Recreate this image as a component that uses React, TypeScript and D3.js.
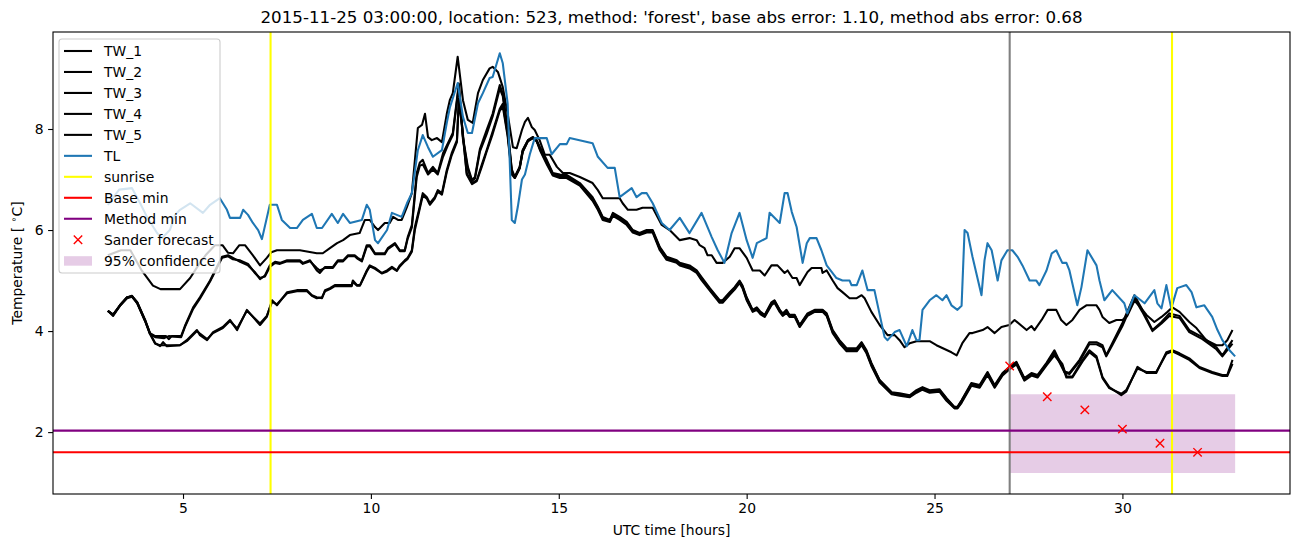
import React, { useEffect, useRef } from "react";
import * as d3 from "d3";

// [hour, temperature] pairs
const tw1 = [
  [3.0, 5.5], [3.35, 5.6], [3.6, 5.6], [3.9, 5.2], [4.2, 4.9], [4.4, 4.83], [4.92, 4.83], [5.19, 5.05],
  [5.45, 5.35], [5.6, 5.5], [5.85, 5.7], [6.05, 5.7], [6.2, 5.55], [6.33, 5.54], [6.5, 5.7], [6.65, 5.7],
  [6.86, 5.5], [7.05, 5.3], [7.23, 5.45], [7.35, 5.56], [7.5, 5.6], [8.11, 5.6], [8.56, 5.54], [8.72, 5.54],
  [8.91, 5.64], [9.1, 5.74], [9.26, 5.8], [9.44, 5.9], [9.7, 5.94], [9.84, 6.2], [9.97, 6.2], [10.11, 6.06],
  [10.19, 6.0], [10.37, 6.14], [10.5, 6.14], [10.59, 6.26], [10.72, 6.2], [10.82, 6.2], [10.96, 6.46],
  [11.09, 6.73], [11.25, 8.02], [11.36, 8.08], [11.44, 8.3], [11.52, 7.84], [11.62, 7.78], [11.76, 7.82],
  [11.89, 7.74], [12.02, 8.3], [12.1, 8.57], [12.18, 8.71], [12.31, 9.43], [12.45, 8.57], [12.58, 8.18],
  [12.71, 8.12], [12.85, 8.71], [12.98, 8.97], [13.16, 9.2], [13.24, 9.23], [13.38, 9.13], [13.51, 8.83],
  [13.64, 8.3], [13.78, 7.64], [13.88, 7.62], [14.02, 7.98], [14.1, 8.14], [14.18, 8.22], [14.28, 8.04],
  [14.36, 7.98], [14.49, 7.78], [14.63, 7.49], [14.76, 7.49], [14.95, 7.25], [15.11, 7.13], [15.29, 7.13],
  [15.56, 7.05], [15.9, 6.93], [16.04, 6.79], [16.17, 6.63], [16.62, 6.63], [16.7, 6.53], [16.84, 6.4],
  [17.07, 6.4], [17.23, 6.44], [17.5, 6.44], [17.74, 6.1], [17.95, 6.0], [18.22, 5.8], [18.48, 5.84],
  [18.67, 5.8], [18.75, 5.7], [18.88, 5.64], [18.96, 5.5], [19.07, 5.5], [19.2, 5.35], [19.36, 5.35],
  [19.55, 5.47], [19.68, 5.64], [19.81, 5.64], [20.0, 5.45], [20.16, 5.2], [20.35, 5.2], [20.48, 5.1],
  [20.66, 5.3], [20.82, 5.3], [21.01, 5.15], [21.09, 5.2], [21.22, 5.05], [21.33, 5.05], [21.41, 4.91],
  [21.62, 5.17], [21.73, 5.25], [21.99, 5.25], [22.02, 5.15], [22.13, 5.2], [22.29, 5.0], [22.42, 4.85],
  [22.55, 4.77], [22.74, 4.65], [22.93, 4.65], [23.06, 4.71], [23.14, 4.65], [23.32, 4.38], [23.54, 4.12],
  [23.75, 3.92], [23.94, 3.92], [24.07, 3.82], [24.2, 3.68], [24.34, 3.76], [24.52, 3.8], [24.87, 3.8],
  [25.05, 3.72], [25.45, 3.58], [25.59, 3.52], [25.74, 3.76], [25.93, 3.96], [26.01, 3.96], [26.28, 4.02],
  [26.41, 4.08], [26.6, 3.96], [26.78, 4.08], [26.99, 4.12], [27.13, 4.22], [27.45, 4.02], [27.58, 4.1],
  [27.66, 4.02], [27.85, 4.22], [28.01, 4.42], [28.24, 4.42], [28.37, 4.22], [28.51, 4.12], [28.67, 4.22],
  [28.86, 4.42], [29.04, 4.51], [29.31, 4.51], [29.39, 4.42], [29.47, 4.28], [29.65, 4.16], [29.84, 4.22],
  [30.0, 4.22], [30.13, 4.3], [30.32, 4.6], [30.45, 4.5], [30.64, 4.32], [30.85, 4.18], [31.04, 4.28],
  [31.2, 4.38], [31.33, 4.47], [31.52, 4.38], [31.78, 4.18], [31.97, 4.06], [32.23, 3.82], [32.5, 3.72],
  [32.66, 3.72], [32.79, 3.82], [32.93, 4.02],
];

const tw2 = [
  [3.0, 4.4], [3.14, 4.32], [3.32, 4.51], [3.51, 4.67], [3.64, 4.69], [3.78, 4.57], [3.99, 4.22], [4.12, 3.96],
  [4.26, 3.9], [4.55, 3.9], [4.62, 3.84], [4.7, 3.9], [4.95, 3.9], [5.05, 4.1], [5.27, 4.47], [5.45, 4.67],
  [5.72, 5.0], [5.9, 5.27], [6.04, 5.47], [6.2, 5.5], [6.33, 5.45], [6.52, 5.37], [6.73, 5.3], [6.91, 5.17],
  [7.05, 5.03], [7.18, 5.1], [7.31, 5.3], [7.45, 5.37], [7.58, 5.35], [7.77, 5.4], [8.11, 5.4], [8.19, 5.35],
  [8.38, 5.4], [8.56, 5.2], [8.64, 5.15], [8.78, 5.27], [8.99, 5.27], [9.12, 5.4], [9.26, 5.4], [9.39, 5.5],
  [9.57, 5.5], [9.65, 5.45], [9.76, 5.4], [9.89, 5.7], [9.97, 5.7], [10.11, 5.54], [10.37, 5.54], [10.45, 5.64],
  [10.64, 5.74], [10.77, 5.6], [10.9, 5.6], [10.98, 5.86], [11.09, 6.1], [11.22, 7.13], [11.3, 7.33],
  [11.38, 7.39], [11.52, 7.13], [11.65, 7.25], [11.78, 7.13], [11.92, 7.52], [12.05, 7.72], [12.18, 7.92],
  [12.34, 8.9], [12.45, 7.84], [12.58, 7.25], [12.69, 6.99], [12.77, 7.05], [12.9, 7.6], [13.08, 7.98],
  [13.24, 8.3], [13.43, 8.87], [13.51, 8.7], [13.64, 8.0], [13.75, 7.2], [13.83, 7.05], [13.96, 7.25],
  [14.04, 7.58], [14.18, 7.78], [14.31, 7.84], [14.41, 7.78], [14.5, 7.64], [14.68, 7.39], [14.84, 7.13],
  [15.03, 7.1], [15.21, 7.09], [15.56, 6.93], [15.9, 6.65], [16.04, 6.46], [16.17, 6.26], [16.36, 6.2],
  [16.44, 6.34], [16.62, 6.26], [16.81, 6.16], [16.97, 6.0], [17.15, 5.94], [17.34, 6.0], [17.5, 6.0],
  [17.69, 5.66], [17.87, 5.47], [18.14, 5.4], [18.22, 5.35], [18.48, 5.3], [18.67, 5.2], [18.8, 5.07],
  [19.02, 4.85], [19.28, 4.61], [19.36, 4.61], [19.55, 4.77], [19.68, 4.87], [19.81, 5.0], [19.89, 4.9],
  [20.0, 4.67], [20.16, 4.42], [20.27, 4.47], [20.37, 4.38], [20.48, 4.32], [20.66, 4.57], [20.74, 4.61],
  [20.88, 4.42], [20.96, 4.35], [21.06, 4.42], [21.14, 4.32], [21.28, 4.32], [21.41, 4.12], [21.62, 4.35],
  [21.81, 4.42], [22.02, 4.42], [22.13, 4.35], [22.29, 4.02], [22.47, 3.82], [22.66, 3.66], [22.93, 3.66],
  [23.06, 3.78], [23.19, 3.62], [23.32, 3.37], [23.54, 3.03], [23.86, 2.79], [24.07, 2.77], [24.34, 2.73],
  [24.52, 2.83], [24.68, 2.89], [24.87, 2.83], [25.13, 2.85], [25.32, 2.67], [25.53, 2.5], [25.61, 2.5],
  [25.72, 2.63], [25.98, 2.97], [26.2, 2.93], [26.41, 3.19], [26.6, 2.93], [26.81, 3.17], [26.99, 3.29],
  [27.18, 3.39], [27.39, 3.07], [27.58, 3.17], [27.74, 3.13], [27.98, 3.37], [28.19, 3.62], [28.46, 3.2],
  [28.59, 3.17], [28.86, 3.43], [29.12, 3.78], [29.31, 3.78], [29.47, 3.72], [29.57, 3.52], [29.73, 3.76],
  [30.0, 4.16], [30.32, 4.71], [30.53, 4.42], [30.8, 4.02], [31.04, 4.18], [31.25, 4.35], [31.52, 4.3],
  [31.78, 4.02], [32.13, 3.88], [32.5, 3.68], [32.66, 3.52], [32.93, 3.82],
];

const tw3 = [
  [3.0, 4.4], [3.14, 4.33], [3.32, 4.5], [3.51, 4.66], [3.64, 4.7], [3.78, 4.56], [3.99, 4.2], [4.12, 3.95],
  [4.26, 3.88], [4.5, 3.86], [4.62, 3.9], [4.95, 3.88], [5.05, 4.08], [5.27, 4.44], [5.45, 4.64],
  [5.72, 4.98], [5.9, 5.25], [6.04, 5.45], [6.2, 5.48], [6.33, 5.42], [6.52, 5.4], [6.73, 5.33], [6.91, 5.15],
  [7.05, 5.05], [7.18, 5.08], [7.31, 5.27], [7.45, 5.35], [7.58, 5.33], [7.77, 5.38], [8.11, 5.38], [8.19, 5.33],
  [8.38, 5.38], [8.56, 5.25], [8.64, 5.2], [8.78, 5.25], [8.99, 5.25], [9.12, 5.38], [9.26, 5.38], [9.39, 5.48],
  [9.57, 5.48], [9.65, 5.43], [9.76, 5.38], [9.89, 5.67], [9.97, 5.68], [10.11, 5.52], [10.37, 5.52],
  [10.45, 5.62], [10.64, 5.72], [10.77, 5.58], [10.9, 5.58], [10.98, 5.83], [11.09, 6.05], [11.22, 7.05],
  [11.3, 7.27], [11.38, 7.3], [11.52, 7.1], [11.65, 7.2], [11.78, 7.1], [11.92, 7.45], [12.05, 7.68],
  [12.18, 7.88], [12.34, 8.85], [12.45, 7.8], [12.58, 7.2], [12.69, 6.97], [12.77, 7.02], [12.9, 7.55],
  [13.08, 7.9], [13.24, 8.25], [13.43, 8.8], [13.51, 8.65], [13.64, 7.95], [13.75, 7.17], [13.83, 7.03],
  [13.96, 7.22], [14.04, 7.55], [14.18, 7.76], [14.31, 7.82], [14.41, 7.76], [14.5, 7.62], [14.68, 7.36],
  [14.84, 7.11], [15.03, 7.08], [15.21, 7.07], [15.56, 6.91], [15.9, 6.62], [16.04, 6.44], [16.17, 6.24],
  [16.36, 6.18], [16.44, 6.32], [16.62, 6.24], [16.81, 6.14], [16.97, 5.98], [17.15, 5.92], [17.34, 5.98],
  [17.5, 5.98], [17.69, 5.64], [17.87, 5.45], [18.14, 5.38], [18.22, 5.33], [18.48, 5.28], [18.67, 5.18],
  [18.8, 5.05], [19.02, 4.83], [19.28, 4.6], [19.36, 4.6], [19.55, 4.75], [19.68, 4.85], [19.81, 4.98],
  [19.89, 4.88], [20.0, 4.65], [20.16, 4.41], [20.27, 4.45], [20.37, 4.36], [20.48, 4.31], [20.66, 4.55],
  [20.74, 4.6], [20.88, 4.41], [20.96, 4.33], [21.06, 4.4], [21.14, 4.31], [21.28, 4.31], [21.41, 4.11],
  [21.62, 4.33], [21.81, 4.41], [22.02, 4.41], [22.13, 4.33], [22.29, 4.0], [22.47, 3.8], [22.66, 3.64],
  [22.93, 3.64], [23.06, 3.76], [23.19, 3.6], [23.32, 3.35], [23.54, 3.02], [23.86, 2.78], [24.07, 2.75],
  [24.34, 2.72], [24.52, 2.81], [24.68, 2.87], [24.87, 2.81], [25.13, 2.83], [25.32, 2.66], [25.53, 2.49],
  [25.61, 2.49], [25.72, 2.62], [25.98, 2.95], [26.2, 2.91], [26.41, 3.17], [26.6, 2.91], [26.81, 3.15],
  [26.99, 3.27], [27.18, 3.37], [27.39, 3.05], [27.58, 3.15], [27.74, 3.11], [27.98, 3.35], [28.19, 3.58],
  [28.46, 3.18], [28.59, 3.15], [28.86, 3.4], [29.12, 3.74], [29.31, 3.74], [29.47, 3.68], [29.57, 3.5],
  [29.73, 3.72], [30.0, 4.1], [30.32, 4.65], [30.53, 4.38], [30.8, 4.0], [31.04, 4.15], [31.25, 4.3],
  [31.52, 4.26], [31.78, 3.98], [32.13, 3.84], [32.5, 3.64], [32.66, 3.5], [32.93, 3.75],
];

const tw4 = [
  [3.0, 4.4], [3.14, 4.32], [3.32, 4.51], [3.51, 4.67], [3.64, 4.69], [3.78, 4.57], [3.99, 4.22], [4.12, 3.96],
  [4.26, 3.76], [4.39, 3.7], [4.47, 3.78], [4.57, 3.7], [4.92, 3.72], [5.1, 3.82], [5.37, 4.02], [5.45, 3.92],
  [5.64, 3.82], [5.8, 3.98], [6.06, 4.08], [6.25, 4.22], [6.44, 4.02], [6.7, 4.42], [7.05, 4.12], [7.23, 4.28],
  [7.37, 4.61], [7.5, 4.51], [7.77, 4.77], [8.03, 4.81], [8.3, 4.81], [8.43, 4.71], [8.56, 4.67], [8.7, 4.65],
  [8.78, 4.81], [8.91, 4.85], [9.04, 4.91], [9.49, 4.91], [9.52, 5.0], [9.63, 4.91], [9.71, 4.91], [9.89, 5.2],
  [9.97, 5.3], [10.11, 5.25], [10.29, 5.15], [10.43, 5.2], [10.56, 5.27], [10.69, 5.2], [10.77, 5.3],
  [10.9, 5.4], [10.98, 5.45], [11.09, 5.6], [11.17, 6.06], [11.3, 6.46], [11.38, 6.73], [11.49, 6.65],
  [11.57, 6.53], [11.7, 6.65], [11.78, 6.79], [11.89, 6.73], [12.02, 7.19], [12.15, 7.52], [12.29, 7.78],
  [12.34, 8.6], [12.42, 8.12], [12.55, 7.13], [12.69, 6.93], [12.82, 6.99], [12.95, 7.29], [13.08, 7.58],
  [13.24, 7.95], [13.43, 8.4], [13.51, 8.5], [13.64, 7.9], [13.75, 7.13], [13.83, 7.05], [13.96, 7.25],
  [14.04, 7.58], [14.18, 7.78], [14.31, 7.84], [14.41, 7.78], [14.5, 7.6], [14.68, 7.33], [14.84, 7.1],
  [15.03, 7.05], [15.21, 7.05], [15.56, 6.9], [15.9, 6.6], [16.04, 6.42], [16.17, 6.22], [16.36, 6.18],
  [16.44, 6.3], [16.62, 6.22], [16.81, 6.12], [16.97, 5.97], [17.15, 5.92], [17.34, 5.97], [17.5, 5.97],
  [17.69, 5.62], [17.87, 5.43], [18.14, 5.37], [18.22, 5.32], [18.48, 5.26], [18.67, 5.17], [18.8, 5.03],
  [19.02, 4.82], [19.28, 4.58], [19.36, 4.58], [19.55, 4.74], [19.68, 4.84], [19.81, 4.97], [19.89, 4.87],
  [20.0, 4.63], [20.16, 4.4], [20.27, 4.44], [20.37, 4.35], [20.48, 4.3], [20.66, 4.53], [20.74, 4.58],
  [20.88, 4.4], [20.96, 4.32], [21.06, 4.38], [21.14, 4.3], [21.28, 4.3], [21.41, 4.1], [21.62, 4.32],
  [21.81, 4.4], [22.02, 4.4], [22.13, 4.32], [22.29, 3.98], [22.47, 3.78], [22.66, 3.62], [22.93, 3.62],
  [23.06, 3.74], [23.19, 3.58], [23.32, 3.33], [23.54, 3.0], [23.86, 2.76], [24.07, 2.74], [24.34, 2.7],
  [24.52, 2.8], [24.68, 2.86], [24.87, 2.8], [25.13, 2.82], [25.32, 2.64], [25.53, 2.48], [25.61, 2.48],
  [25.72, 2.6], [25.98, 2.94], [26.2, 2.9], [26.41, 3.15], [26.6, 2.9], [26.81, 3.14], [26.99, 3.26],
  [27.18, 3.36], [27.39, 3.04], [27.58, 3.14], [27.74, 3.1], [27.98, 3.34], [28.19, 3.55], [28.4, 3.35],
  [28.51, 3.1], [28.67, 3.1], [28.94, 3.43], [29.12, 3.62], [29.31, 3.5], [29.47, 3.09], [29.65, 2.89],
  [29.97, 2.73], [30.1, 2.8], [30.4, 3.29], [30.64, 3.17], [30.9, 3.17], [31.17, 3.58], [31.33, 3.62],
  [31.52, 3.56], [31.78, 3.46], [32.05, 3.29], [32.39, 3.19], [32.66, 3.13], [32.79, 3.13], [32.93, 3.43],
];

const tw5 = [
  [3.0, 4.4], [3.14, 4.3], [3.32, 4.5], [3.51, 4.65], [3.64, 4.68], [3.78, 4.55], [3.99, 4.2], [4.12, 3.94],
  [4.26, 3.75], [4.39, 3.72], [4.57, 3.72], [4.92, 3.72], [5.1, 3.8], [5.37, 4.0], [5.45, 3.95],
  [5.64, 3.84], [5.8, 3.96], [6.06, 4.06], [6.25, 4.2], [6.44, 4.05], [6.7, 4.4], [7.05, 4.15], [7.23, 4.3],
  [7.37, 4.58], [7.5, 4.53], [7.77, 4.75], [8.03, 4.79], [8.3, 4.79], [8.43, 4.7], [8.56, 4.65], [8.7, 4.67],
  [8.78, 4.79], [8.91, 4.83], [9.04, 4.89], [9.49, 4.89], [9.52, 4.97], [9.63, 4.9], [9.71, 4.9], [9.89, 5.18],
  [9.97, 5.28], [10.11, 5.23], [10.29, 5.14], [10.43, 5.18], [10.56, 5.25], [10.69, 5.19], [10.77, 5.28],
  [10.9, 5.38], [10.98, 5.43], [11.09, 5.57], [11.17, 6.0], [11.3, 6.42], [11.38, 6.68], [11.49, 6.62],
  [11.57, 6.5], [11.7, 6.62], [11.78, 6.76], [11.89, 6.7], [12.02, 7.15], [12.15, 7.48], [12.29, 7.74],
  [12.34, 8.55], [12.42, 8.08], [12.55, 7.1], [12.69, 6.91], [12.82, 6.97], [12.95, 7.25], [13.08, 7.55],
  [13.24, 7.9], [13.43, 8.36], [13.51, 8.45], [13.64, 7.85], [13.75, 7.1], [13.83, 7.03], [13.96, 7.22],
  [14.04, 7.55], [14.18, 7.76], [14.31, 7.82], [14.41, 7.76], [14.5, 7.58], [14.68, 7.3], [14.84, 7.08],
  [15.03, 7.03], [15.21, 7.03], [15.56, 6.88], [15.9, 6.58], [16.04, 6.4], [16.17, 6.2], [16.36, 6.16],
  [16.44, 6.28], [16.62, 6.2], [16.81, 6.1], [16.97, 5.95], [17.15, 5.9], [17.34, 5.95], [17.5, 5.95],
  [17.69, 5.6], [17.87, 5.41], [18.14, 5.35], [18.22, 5.3], [18.48, 5.24], [18.67, 5.15], [18.8, 5.01],
  [19.02, 4.8], [19.28, 4.56], [19.36, 4.56], [19.55, 4.72], [19.68, 4.82], [19.81, 4.95], [19.89, 4.85],
  [20.0, 4.61], [20.16, 4.38], [20.27, 4.42], [20.37, 4.33], [20.48, 4.28], [20.66, 4.51], [20.74, 4.56],
  [20.88, 4.38], [20.96, 4.3], [21.06, 4.36], [21.14, 4.28], [21.28, 4.28], [21.41, 4.08], [21.62, 4.3],
  [21.81, 4.38], [22.02, 4.38], [22.13, 4.3], [22.29, 3.96], [22.47, 3.76], [22.66, 3.6], [22.93, 3.6],
  [23.06, 3.72], [23.19, 3.56], [23.32, 3.31], [23.54, 2.98], [23.86, 2.75], [24.07, 2.72], [24.34, 2.69],
  [24.52, 2.78], [24.68, 2.84], [24.87, 2.78], [25.13, 2.8], [25.32, 2.62], [25.53, 2.47], [25.61, 2.47],
  [25.72, 2.58], [25.98, 2.92], [26.2, 2.88], [26.41, 3.13], [26.6, 2.88], [26.81, 3.12], [26.99, 3.24],
  [27.18, 3.34], [27.39, 3.02], [27.58, 3.12], [27.74, 3.08], [27.98, 3.32], [28.19, 3.52], [28.4, 3.32],
  [28.51, 3.08], [28.67, 3.08], [28.94, 3.4], [29.12, 3.58], [29.31, 3.47], [29.47, 3.07], [29.65, 2.87],
  [29.97, 2.76], [30.1, 2.83], [30.4, 3.26], [30.64, 3.19], [30.9, 3.19], [31.17, 3.55], [31.33, 3.6],
  [31.52, 3.53], [31.78, 3.43], [32.05, 3.27], [32.39, 3.17], [32.66, 3.11], [32.79, 3.11], [32.93, 3.35],
];

const tl = [
  [3.0, 6.5], [3.3, 6.8], [3.64, 6.83], [3.86, 6.53], [4.04, 6.26], [4.31, 5.94], [4.44, 5.84], [4.65, 6.0],
  [4.79, 6.3], [4.92, 6.4], [5.19, 6.53], [5.53, 6.34], [5.72, 6.5], [5.98, 6.63], [6.17, 6.4], [6.25, 6.24],
  [6.52, 6.24], [6.6, 6.4], [6.73, 6.3], [6.86, 6.14], [7.0, 6.0], [7.1, 5.82], [7.31, 6.5], [7.5, 6.5],
  [7.63, 6.2], [7.85, 6.04], [8.03, 6.04], [8.19, 6.2], [8.43, 6.32], [8.56, 6.04], [8.7, 6.04], [8.96, 6.32],
  [9.12, 6.14], [9.26, 6.32], [9.44, 6.14], [9.76, 6.2], [9.89, 6.5], [9.97, 6.4], [10.11, 5.8], [10.19, 5.74],
  [10.43, 6.0], [10.56, 6.34], [10.82, 6.26], [10.96, 6.53], [11.09, 6.73], [11.25, 7.58], [11.38, 7.88],
  [11.52, 7.64], [11.65, 7.45], [11.89, 7.58], [12.02, 8.12], [12.1, 8.42], [12.31, 8.91], [12.45, 8.24],
  [12.58, 7.92], [12.69, 7.92], [12.85, 8.51], [12.98, 8.71], [13.16, 9.01], [13.24, 9.03], [13.43, 9.5],
  [13.51, 9.3], [13.64, 8.5], [13.75, 6.2], [13.83, 6.14], [13.91, 6.46], [14.02, 7.0], [14.1, 7.1],
  [14.23, 7.5], [14.36, 7.82], [14.68, 7.82], [14.81, 7.5], [15.03, 7.7], [15.21, 7.7], [15.29, 7.82],
  [15.9, 7.72], [16.04, 7.45], [16.3, 7.23], [16.49, 7.23], [16.62, 6.65], [16.94, 6.83], [17.07, 6.65],
  [17.21, 6.73], [17.34, 6.73], [17.5, 6.53], [17.74, 6.14], [17.95, 6.0], [18.22, 6.24], [18.48, 5.94],
  [18.8, 6.34], [19.07, 5.86], [19.23, 5.6], [19.41, 5.35], [19.6, 5.94], [19.81, 6.34], [20.0, 5.8],
  [20.16, 5.45], [20.27, 5.74], [20.53, 5.84], [20.61, 6.34], [20.88, 6.14], [21.01, 6.73], [21.09, 6.73],
  [21.2, 6.36], [21.33, 6.06], [21.49, 5.35], [21.6, 5.74], [21.68, 5.84], [21.86, 5.84], [21.99, 5.6],
  [22.13, 5.3], [22.39, 5.05], [22.55, 5.0], [22.74, 5.0], [22.79, 4.91], [22.93, 4.91], [23.08, 5.2],
  [23.22, 4.81], [23.4, 4.81], [23.67, 3.88], [23.75, 3.82], [23.94, 3.98], [24.07, 4.02], [24.26, 3.7],
  [24.41, 4.02], [24.52, 3.82], [24.6, 3.82], [24.68, 4.42], [24.87, 4.61], [25.05, 4.71], [25.21, 4.61],
  [25.32, 4.71], [25.45, 4.51], [25.61, 4.42], [25.72, 4.5], [25.8, 6.0], [25.88, 5.94], [26.01, 5.47],
  [26.25, 4.71], [26.33, 5.4], [26.41, 5.74], [26.52, 5.6], [26.68, 5.0], [26.78, 5.4], [26.94, 5.6],
  [27.07, 5.6], [27.21, 5.47], [27.34, 5.3], [27.53, 5.0], [27.71, 5.0], [27.79, 4.91], [27.98, 5.2],
  [28.12, 5.54], [28.24, 5.6], [28.4, 5.35], [28.51, 5.35], [28.59, 5.2], [28.8, 4.51], [28.91, 4.87],
  [29.07, 5.6], [29.31, 5.3], [29.39, 5.0], [29.52, 4.61], [29.73, 4.81], [30.05, 4.55], [30.13, 4.35],
  [30.32, 4.71], [30.59, 4.55], [30.85, 4.81], [30.93, 4.55], [31.04, 4.45], [31.17, 4.91], [31.3, 4.45],
  [31.46, 4.85], [31.7, 4.91], [31.84, 4.77], [31.97, 4.47], [32.18, 4.51], [32.39, 4.28], [32.53, 4.02],
  [32.66, 3.82], [32.85, 3.62], [33.0, 3.5],
];

const sunriseHours = [7.33, 31.32];
const forecastStart = 27;
const baseMin = 1.6;
const methodMin = 2.03;
const forecastHours = [27, 28, 29, 30, 31, 32];
const forecastTemps = [3.31, 2.7, 2.44, 2.06, 1.78, 1.6];
const confidenceBand = [
  [27, 1.19, 2.75],
  [33, 1.19, 2.75],
];
const xTicks = [5, 10, 15, 20, 25, 30];
const yTicks = [2, 4, 6, 8];

const title =
  "2015-11-25 03:00:00, location: 523, method: 'forest', base abs error: 1.10, method abs error: 0.68";

export default function App() {
  const svgRef = useRef(null);

  useEffect(() => {
    document.body.style.margin = "0";
    const width = 1302;
    const height = 547;
    const left = 53;
    const right = 1290;
    const top = 32;
    const bottom = 494;
    const lw = 2.08;
    const font = "'DejaVu Sans', sans-serif";

    const svg = d3
      .select(svgRef.current)
      .attr("width", width)
      .attr("height", height)
      .style("display", "block")
      .style("font-family", font);
    svg.selectAll("*").remove();

    svg.append("rect").attr("width", width).attr("height", height).attr("fill", "white");

    const x = d3.scaleLinear().domain([1.54, 34.46]).range([left, right]);
    const y = d3.scaleLinear().domain([0.775, 9.92]).range([bottom, top]);

    // confidence band (below lines)
    svg
      .append("path")
      .datum(confidenceBand)
      .attr("fill", "purple")
      .attr("fill-opacity", 0.2)
      .attr(
        "d",
        d3
          .area()
          .x((d) => x(d[0]))
          .y0((d) => y(d[1]))
          .y1((d) => y(d[2]))
      );

    const line = d3
      .line()
      .x((d) => x(d[0]))
      .y((d) => y(d[1]));

    [tw1, tw2, tw3, tw4, tw5].forEach((s) => {
      svg
        .append("path")
        .datum(s)
        .attr("fill", "none")
        .attr("stroke", "black")
        .attr("stroke-width", lw)
        .attr("stroke-linejoin", "round")
        .attr("d", line);
    });

    svg
      .append("path")
      .datum(tl)
      .attr("fill", "none")
      .attr("stroke", "#1f77b4")
      .attr("stroke-width", lw)
      .attr("stroke-linejoin", "round")
      .attr("d", line);

    // vertical markers
    svg
      .selectAll(".sunrise")
      .data(sunriseHours)
      .join("line")
      .attr("x1", (d) => x(d))
      .attr("x2", (d) => x(d))
      .attr("y1", top)
      .attr("y2", bottom)
      .attr("stroke", "yellow")
      .attr("stroke-width", lw);

    svg
      .append("line")
      .attr("x1", x(forecastStart))
      .attr("x2", x(forecastStart))
      .attr("y1", top)
      .attr("y2", bottom)
      .attr("stroke", "gray")
      .attr("stroke-width", lw);

    // horizontal minima
    [
      [baseMin, "red"],
      [methodMin, "purple"],
    ].forEach(([v, c]) => {
      svg
        .append("line")
        .attr("x1", left)
        .attr("x2", right)
        .attr("y1", y(v))
        .attr("y2", y(v))
        .attr("stroke", c)
        .attr("stroke-width", lw);
    });

    // forecast crosses
    const cross = (g, cx, cy, r) => {
      g.append("path")
        .attr("d", `M${cx - r},${cy - r}L${cx + r},${cy + r}M${cx - r},${cy + r}L${cx + r},${cy - r}`)
        .attr("stroke", "red")
        .attr("stroke-width", 1.4)
        .attr("fill", "none");
    };
    const fg = svg.append("g");
    forecastHours.forEach((h, i) => cross(fg, x(h), y(forecastTemps[i]), 4.2));

    // axes
    const xAxis = svg
      .append("g")
      .attr("transform", `translate(0,${bottom})`)
      .call(d3.axisBottom(x).tickValues(xTicks).tickSize(4.9).tickPadding(4.5).tickFormat(d3.format("d")));
    const yAxis = svg
      .append("g")
      .attr("transform", `translate(${left},0)`)
      .call(d3.axisLeft(y).tickValues(yTicks).tickSize(4.9).tickPadding(4.5).tickFormat(d3.format("d")));
    [xAxis, yAxis].forEach((a) => {
      a.select(".domain").remove();
      a.attr("font-family", font).attr("font-size", 13.9);
      a.selectAll("line").attr("stroke", "black").attr("stroke-width", 1.1);
      a.selectAll("text").attr("fill", "black");
    });

    svg
      .append("rect")
      .attr("x", left)
      .attr("y", top)
      .attr("width", right - left)
      .attr("height", bottom - top)
      .attr("fill", "none")
      .attr("stroke", "black")
      .attr("stroke-width", 1.1);

    // labels
    svg
      .append("text")
      .attr("x", (left + right) / 2)
      .attr("y", 23)
      .attr("text-anchor", "middle")
      .attr("font-size", 16.7)
      .text(title);

    svg
      .append("text")
      .attr("x", (left + right) / 2)
      .attr("y", 535)
      .attr("text-anchor", "middle")
      .attr("font-size", 13.9)
      .text("UTC time [hours]");

    const yl = svg
      .append("text")
      .attr("transform", `translate(22,${(top + bottom) / 2}) rotate(-90)`)
      .attr("text-anchor", "middle")
      .attr("font-size", 13.9);
    yl.append("tspan").text("Temperature [ ");
    yl.append("tspan").attr("dy", -5).attr("font-size", 9.7).text("∘");
    yl.append("tspan").attr("dy", 5).text("C]");

    // legend
    const lg = svg.append("g");
    lg.append("rect")
      .attr("x", 59)
      .attr("y", 39)
      .attr("width", 161)
      .attr("height", 234)
      .attr("rx", 3)
      .attr("fill", "white")
      .attr("fill-opacity", 0.8)
      .attr("stroke", "#cccccc")
      .attr("stroke-width", 1.1);

    const entries = [
      { label: "TW_1", kind: "line", color: "black" },
      { label: "TW_2", kind: "line", color: "black" },
      { label: "TW_3", kind: "line", color: "black" },
      { label: "TW_4", kind: "line", color: "black" },
      { label: "TW_5", kind: "line", color: "black" },
      { label: "TL", kind: "line", color: "#1f77b4" },
      { label: "sunrise", kind: "line", color: "yellow" },
      { label: "Base min", kind: "line", color: "red" },
      { label: "Method min", kind: "line", color: "purple" },
      { label: "Sander forecast", kind: "cross", color: "red" },
      { label: "95% confidence", kind: "patch", color: "purple" },
    ];
    entries.forEach((e, i) => {
      const ry = 51 + i * 20.97;
      if (e.kind === "line") {
        lg.append("line")
          .attr("x1", 64)
          .attr("x2", 92)
          .attr("y1", ry)
          .attr("y2", ry)
          .attr("stroke", e.color)
          .attr("stroke-width", lw);
      } else if (e.kind === "cross") {
        cross(lg, 78, ry, 4.2);
      } else {
        lg.append("rect")
          .attr("x", 64)
          .attr("y", ry - 4.5)
          .attr("width", 28)
          .attr("height", 9.5)
          .attr("fill", e.color)
          .attr("fill-opacity", 0.2);
      }
      lg.append("text")
        .attr("x", 104)
        .attr("y", ry)
        .attr("dy", "0.35em")
        .attr("font-size", 13.9)
        .text(e.label);
    });
  }, []);

  return <svg ref={svgRef}></svg>;
}
